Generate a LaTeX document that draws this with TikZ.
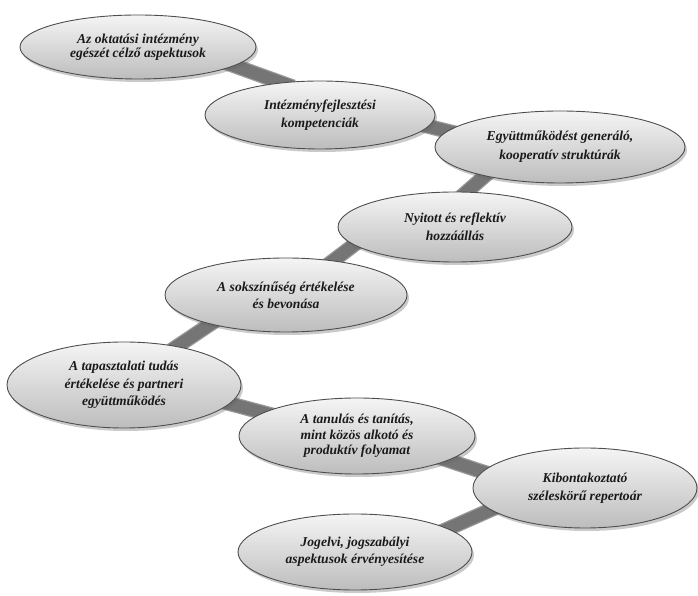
\documentclass[tikz,border=0pt]{standalone}
\usepackage{fontspec}
\setmainfont{Liberation Serif}
\usetikzlibrary{shapes.geometric,shadows,backgrounds}
\definecolor{barcol}{HTML}{757575}
\definecolor{baredge}{HTML}{9A9A9A}
\definecolor{ellborder}{HTML}{4E4E4E}
\definecolor{txtcol}{HTML}{1A1A1A}
\newcommand{\ovalfont}[1]{\fontsize{13.6}{#1}\selectfont\bfseries\itshape}
\tikzset{
 oval/.style={ellipse, draw=ellborder, line width=0.9pt, top color=white!96!black, bottom color=black!26,
   inner sep=0pt, outer sep=0pt, align=center, text=txtcol,
   font=\ovalfont{17},
   drop shadow={shadow xshift=2pt, shadow yshift=-3pt, opacity=0.35, fill=black!60}},
 barouter/.style={line width=15pt, draw=baredge, shorten <=-12pt, shorten >=-12pt},
 barinner/.style={line width=12.5pt, draw=barcol, shorten <=-12pt, shorten >=-12pt},
}
\begin{document}
\begin{tikzpicture}[x=1pt,y=1pt]
\useasboundingbox (0,0) rectangle (698,596);
\node[oval, minimum width=236pt, minimum height=64pt, font=\ovalfont{13.5}] (e1) at (138,549) {Az oktatási intézmény\\egészét célző aspektusok};
\node[oval, minimum width=230pt, minimum height=68pt, font=\ovalfont{18}] (e2) at (320,481) {Intézményfejlesztési\\kompetenciák};
\node[oval, minimum width=250pt, minimum height=72pt, font=\ovalfont{19}] (e3) at (560,449) {Együttműködést generáló,\\kooperatív struktúrák};
\node[oval, minimum width=234pt, minimum height=70pt, font=\ovalfont{18}] (e4) at (455,369) {Nyitott és reflektív\\hozzáállás};
\node[oval, minimum width=242pt, minimum height=74pt, font=\ovalfont{17}] (e5) at (286,301) {A sokszínűség értékelése\\és bevonása};
\node[oval, minimum width=234pt, minimum height=86pt, font=\ovalfont{17.5}] (e6) at (124,211) {A tapasztalati tudás\\értékelése és partneri\\együttműködés};
\node[oval, minimum width=236pt, minimum height=76pt, font=\ovalfont{15.5}] (e7) at (357,160) {A tanulás és tanítás,\\mint közös alkotó és\\produktív folyamat};
\node[oval, minimum width=224pt, minimum height=80pt, font=\ovalfont{18}] (e8) at (585,108) {Kibontakoztató\\széleskörű repertoár};
\node[oval, minimum width=234pt, minimum height=76pt, font=\ovalfont{17}] (e9) at (355,44) {Jogelvi, jogszabályi\\aspektusok érvényesítése};
\begin{scope}[on background layer]
\foreach \s in {barouter,barinner}{
 \draw[\s] (e1.-11) -- (e2.140);
 \draw[\s] (e2.-6) -- (e3.172);
 \draw[\s] (e3.201) -- (e4.72);
 \draw[\s] (e4.190) -- (e5.36);
 \draw[\s] (e5.201) -- (e6.36);
 \draw[\s] (e6.-10) -- (e7.166);
 \draw[\s] (e7.-15) -- (e8.171);
 \draw[\s] (e8.193) -- (e9.14);
}
\end{scope}
\end{tikzpicture}
\end{document}
